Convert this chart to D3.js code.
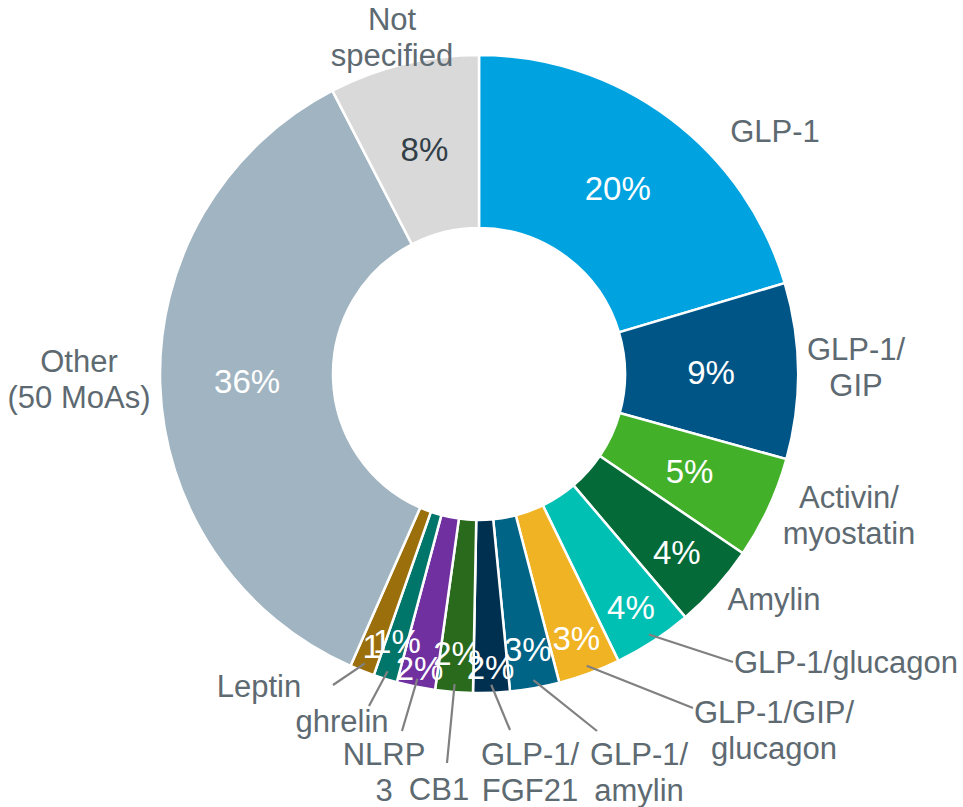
<!DOCTYPE html>
<html>
<head>
<meta charset="utf-8">
<script src="https://cdn.jsdelivr.net/npm/d3@7"></script>
<style>
  body { margin: 0; background: #fff; }
  text { font-family: "Liberation Sans", Arial, sans-serif; }
</style>
</head>
<body>
<script>
// categories and shares, clockwise from 12 o'clock
var categories = ["GLP-1", "GLP-1/GIP", "Activin/myostatin", "Amylin", "GLP-1/glucagon",
  "GLP-1/GIP/glucagon", "GLP-1/amylin", "GLP-1/FGF21", "CB1", "NLRP3", "ghrelin",
  "Leptin", "Other (50 MoAs)", "Not specified"];
var shares = [20.4, 8.9, 5.2, 4.3, 4.0, 3.15, 2.5, 1.85, 1.9, 1.95, 1.2, 1.25, 35.8, 7.6];
var valueLabels = ["20%", "9%", "5%", "4%", "4%", "3%", "3%", "2%", "2%", "2%", "1%", "1", "36%", "8%"];
var nameLines = [["GLP-1"], ["GLP-1/", "GIP"], ["Activin/", "myostatin"], ["Amylin"], ["GLP-1/glucagon"],
  ["GLP-1/GIP/", "glucagon"], ["GLP-1/", "amylin"], ["GLP-1/", "FGF21"], ["CB1"], ["NLRP", "3"],
  ["ghrelin"], ["Leptin"], ["Other", "(50 MoAs)"], ["Not", "specified"]];

var colors = ["#00a3e0", "#005587", "#43b02a", "#046a38", "#00bfb3", "#f0b323", "#006487",
  "#003050", "#2a6a1c", "#7030a0", "#00766a", "#9b700c", "#a0b4c1", "#d9d9d9"];

var svgWidth = 963;
var svgHeight = 807;
var cx = 479, cy = 374;
var outerR = 319, innerR = 146;

// label placement (Excel-style manual positions)
var pctRadius = [232, 232, 232, 266, 278, 281, 279, 293, 280, 300, 279, 293, 232, 231];
var nameAt = [[775, 142], [856, 360], [849, 508], [774, 610], [846, 673], [774, 723], [639, 765],
  [530, 765], [439, 800], [384, 765], [342, 732], [259, 697], [79, 372], [392, 30]];
var leaderEnd = [null, null, null, null, [733, 662], [693, 708], [597, 731], [510, 730],
  [447, 763], [402, 731], [369, 706], [333, 685], null, null];

var svg = d3.select("body")
  .append("svg")
  .attr("width", svgWidth)
  .attr("height", svgHeight);

var g = svg.append("g")
  .attr("transform", "translate(" + cx + "," + cy + ")");

var pie = d3.pie().sort(null).value(function(d) { return d; });
var arcs = pie(shares);

var arc = d3.arc().innerRadius(innerR).outerRadius(outerR);

g.selectAll("path.slice")
  .data(arcs)
  .enter()
  .append("path")
  .attr("class", "slice")
  .attr("d", arc)
  .attr("fill", function(d, i) { return colors[i]; })
  .attr("stroke", "#fff")
  .attr("stroke-width", 2.5);

// leader lines
var leaderArc = d3.arc().innerRadius(311).outerRadius(311);
g.selectAll("line.leader")
  .data(arcs.filter(function(d, i) { return leaderEnd[i]; }))
  .enter()
  .append("line")
  .attr("class", "leader")
  .attr("x1", function(d) { return leaderArc.centroid(d)[0]; })
  .attr("y1", function(d) { return leaderArc.centroid(d)[1]; })
  .attr("x2", function(d) { return leaderEnd[d.index][0] - cx; })
  .attr("y2", function(d) { return leaderEnd[d.index][1] - cy; })
  .attr("stroke", "#808080")
  .attr("stroke-width", 2.2);

// percentage labels
g.selectAll("text.pct")
  .data(arcs)
  .enter()
  .append("text")
  .attr("class", "pct")
  .attr("transform", function(d, i) {
    var a = d3.arc().innerRadius(pctRadius[i]).outerRadius(pctRadius[i]);
    return "translate(" + a.centroid(d) + ")";
  })
  .attr("text-anchor", "middle")
  .attr("dy", "0.36em")
  .attr("font-size", 33)
  .attr("fill", function(d, i) { return i === 13 ? "#333f48" : "#fff"; })
  .text(function(d, i) { return valueLabels[i]; });

// category labels
var names = svg.selectAll("text.name")
  .data(categories)
  .enter()
  .append("text")
  .attr("class", "name")
  .attr("text-anchor", "middle")
  .attr("font-size", 31)
  .attr("fill", "#5e6a71")
  .attr("x", function(d, i) { return nameAt[i][0]; })
  .attr("y", function(d, i) { return nameAt[i][1]; });

names.selectAll("tspan")
  .data(function(d, i) { return nameLines[i].map(function(t) { return { t: t, i: i }; }); })
  .enter()
  .append("tspan")
  .attr("x", function(d) { return nameAt[d.i][0]; })
  .attr("dy", function(d, j) { return j === 0 ? 0 : 36; })
  .text(function(d) { return d.t; });
</script>
</body>
</html>
